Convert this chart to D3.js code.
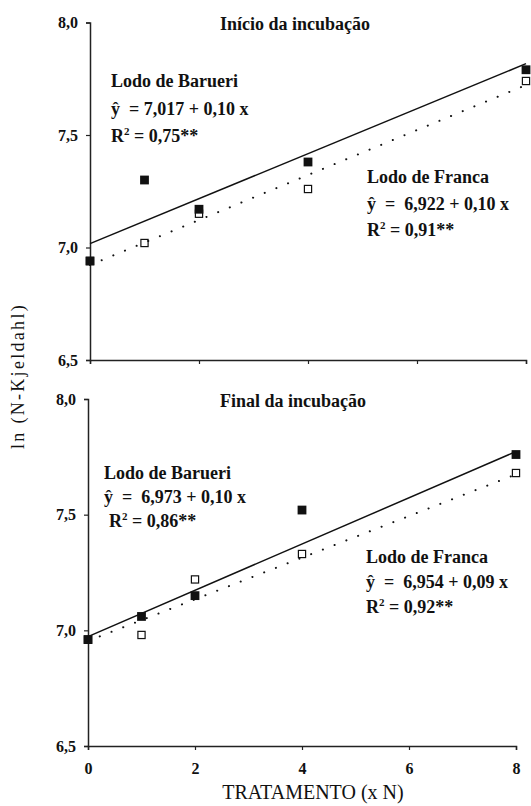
<!DOCTYPE html>
<html>
<head>
<meta charset="utf-8">
<script src="https://d3js.org/d3.v7.min.js"></script>
<style>
  body { margin: 0; background: #fff; }
  svg text { font-family: "Liberation Serif", "DejaVu Serif", "Times New Roman", serif !important; fill: #111; }
</style>
</head>
<body>
<script>
// doses (x N)
var doses = [0, 1, 2, 4, 8];
var xTicks = [0, 2, 4, 6, 8];
var yTicks = [6.5, 7.0, 7.5, 8.0];

// ln(N-Kjeldahl)
var inicioBarueri = [6.94, 7.30, 7.17, 7.38, 7.79];
var inicioFranca  = [6.94, 7.02, 7.15, 7.26, 7.74];
var finalBarueri  = [6.96, 7.06, 7.15, 7.52, 7.76];
var finalFranca   = [6.96, 6.98, 7.22, 7.33, 7.68];

// fitted lines [intercept, slope]
var inicioFitB = [7.017, 0.10];
var inicioFitF = [6.922, 0.10];
var finalFitB  = [6.973, 0.10];
var finalFitF  = [6.954, 0.09];

var W = 531, H = 806;
var svg = d3.select("body").append("svg").attr("width", W).attr("height", H);

function comma1(v) { return d3.format(".1f")(v).replace(".", ","); }
function comma2(v) { return d3.format(".2f")(v).replace(".", ","); }
function comma3(v) { return d3.format(".3f")(v).replace(".", ","); }

function panel(opt) {
  var x = d3.scaleLinear().domain([0, 8]).range([opt.left, opt.right]);
  var y = d3.scaleLinear().domain([6.5, 8.0]).range([opt.bottom, opt.top]);
  var g = svg.append("g");

  // y axis
  g.append("g")
    .attr("transform", "translate(" + opt.left + ",0)")
    .call(d3.axisLeft(y).tickValues(yTicks).tickSize(4).tickPadding(8).tickFormat(comma1))
    .call(a => a.select(".domain").attr("stroke", "#222").attr("stroke-width", 1.5))
    .call(a => a.selectAll(".tick line").attr("stroke", "#222").attr("stroke-width", 1.2))
    .call(a => a.selectAll("text").attr("font-size", 16).attr("font-weight", "bold"));

  // x axis
  g.append("g")
    .attr("transform", "translate(0," + opt.bottom + ")")
    .call(d3.axisBottom(x).tickValues(xTicks).tickSize(4).tickPadding(13)
      .tickFormat(opt.xLabels ? d3.format("d") : ""))
    .call(a => a.select(".domain").attr("stroke", "#222").attr("stroke-width", 1.5))
    .call(a => a.selectAll(".tick line").attr("stroke", "#222").attr("stroke-width", 1.2))
    .call(a => a.selectAll("text").attr("font-size", 16).attr("font-weight", "bold"));

  // open markers (Franca)
  g.selectAll("rect.open").data(doses.map((d, i) => [d, opt.franca[i]]))
    .join("rect").attr("class", "open")
    .attr("x", d => x(d[0]) - 3.6).attr("y", d => y(d[1]) - 3.6)
    .attr("width", 7.2).attr("height", 7.2)
    .attr("fill", "#fff").attr("stroke", "#111").attr("stroke-width", 1.2);

  // filled markers (Barueri)
  g.selectAll("rect.fill").data(doses.map((d, i) => [d, opt.barueri[i]]))
    .join("rect").attr("class", "fill")
    .attr("x", d => x(d[0]) - 4.4).attr("y", d => y(d[1]) - 4.4)
    .attr("width", 8.8).attr("height", 8.8)
    .attr("fill", "#111");

  function fitPath(fit) {
    return d3.line().x(d => x(d)).y(d => y(fit[0] + fit[1] * d))([0, 8]);
  }
  g.append("path").attr("d", fitPath(opt.fitB))
    .attr("fill", "none").attr("stroke", "#111").attr("stroke-width", 1.5);
  g.append("path").attr("d", fitPath(opt.fitF))
    .attr("fill", "none").attr("stroke", "#111").attr("stroke-width", 2)
    .attr("stroke-linecap", "round").attr("stroke-dasharray", "0.1 12.5");

  // title
  g.append("text").attr("x", opt.titleX).attr("y", opt.titleY)
    .attr("text-anchor", "middle").attr("font-size", 18).attr("font-weight", "bold")
    .text(opt.title);

  function block(b, name, fit, r2) {
    var t = g.append("g").attr("font-size", 18).attr("font-weight", "bold");
    t.append("text").attr("x", b.x).attr("y", b.y).text(name);
    t.append("text").attr("x", b.x).attr("y", b.y + b.gap).attr("xml:space", "preserve")
      .text("ŷ" + b.pad + comma3(fit[0]) + " + " + comma2(fit[1]) + " x");
    var r = t.append("text").attr("x", b.x + (b.r2dx || 0)).attr("y", b.y + 2 * b.gap);
    r.append("tspan").text("R");
    r.append("tspan").attr("dy", -7).attr("font-size", 11).text("2");
    r.append("tspan").attr("dy", 7).text(" = " + r2 + "**");
  }
  block(opt.bBlock, "Lodo de Barueri", opt.fitB, opt.r2B);
  block(opt.fBlock, "Lodo de Franca", opt.fitF, opt.r2F);
}

panel({
  left: 90, right: 526, top: 22.5, bottom: 360,
  barueri: inicioBarueri, franca: inicioFranca, fitB: inicioFitB, fitF: inicioFitF,
  title: "Início da incubação", titleX: 295, titleY: 30,
  bBlock: { x: 111, y: 87, gap: 27.5, pad: "  = " },
  fBlock: { x: 367, y: 183, gap: 26.5, pad: "  =  " },
  r2B: "0,75", r2F: "0,91",
  xLabels: false
});
panel({
  left: 88, right: 516, top: 399, bottom: 746,
  barueri: finalBarueri, franca: finalFranca, fitB: finalFitB, fitF: finalFitF,
  title: "Final da incubação", titleX: 293, titleY: 407,
  bBlock: { x: 104, y: 479, gap: 24, pad: "  =  ", r2dx: 5 },
  fBlock: { x: 366, y: 563, gap: 25, pad: "  =  " },
  r2B: "0,86", r2F: "0,92",
  xLabels: true
});

// axis titles
svg.append("text")
  .attr("transform", "translate(24,376) rotate(-90)")
  .attr("text-anchor", "middle").attr("font-size", 18).attr("letter-spacing", 2.3)
  .text("ln (N-Kjeldahl)");
svg.append("text").attr("x", 313).attr("y", 799)
  .attr("text-anchor", "middle").attr("font-size", 20)
  .text("TRATAMENTO (x N)");
</script>
</body>
</html>
